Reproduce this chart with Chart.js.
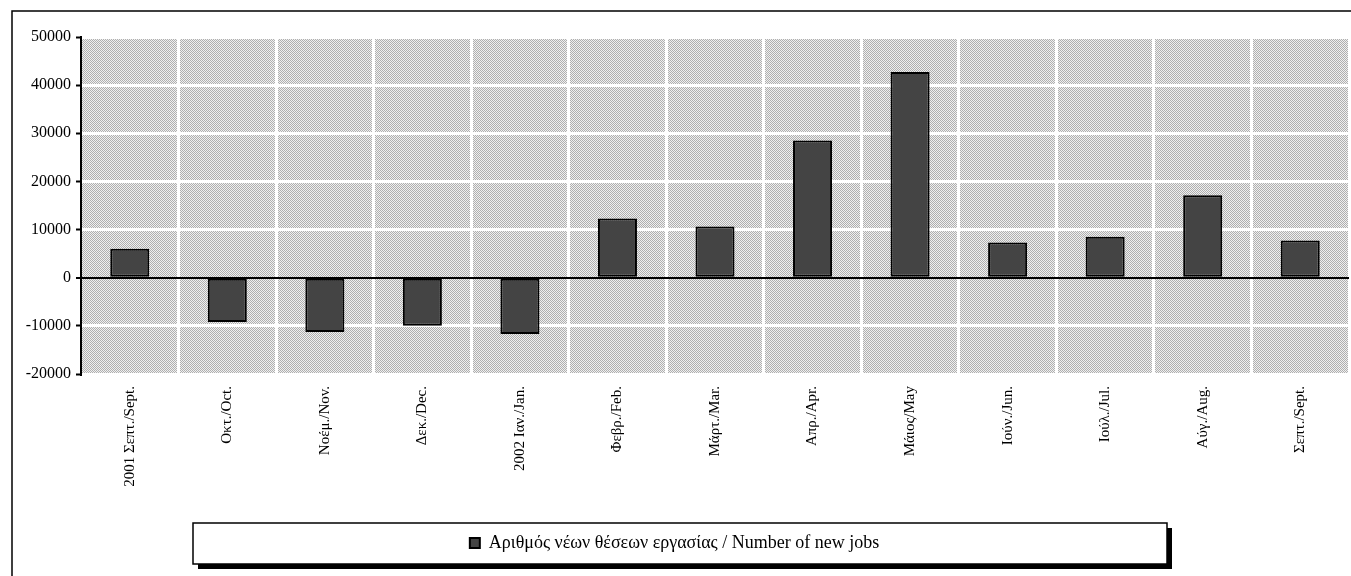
<!DOCTYPE html>
<html>
<head>
<meta charset="utf-8">
<script src="https://cdn.jsdelivr.net/npm/chart.js@4.4.0/dist/chart.umd.min.js"></script>
<style>
  html, body { margin: 0; padding: 0; background: #fff; }
  #box { width: 1351px; height: 576px; }
</style>
</head>
<body>
<div id="box"><canvas id="grafico"></canvas></div>
<script>
// dados do gráfico
const meses = ["2001 Σεπτ./Sept.", "Οκτ./Oct.", "Νοέμ./Nov.", "Δεκ./Dec.", "2002 Ιαν./Jan.",
  "Φεβρ./Feb.", "Μάρτ./Mar.", "Απρ./Apr.", "Μάιος/May", "Ιούν./Jun.", "Ιούλ./Jul.", "Αύγ./Aug.", "Σεπτ./Sept."];
const novasVagas = [6000, -9200, -11300, -10000, -11700, 12300, 10650, 28500, 42750, 7300, 8500, 17150, 7750];
const nomeSerie = "Αριθμός νέων θέσεων εργασίας / Number of new jobs";
const eixoYMin = -20000;
const eixoYMax = 50000;
const eixoYPasso = 10000;

const fonte = "'Liberation Serif', 'Times New Roman', serif";

// fundo pontilhado da área do gráfico, moldura externa e caixa da legenda
const fundoPlugin = {
  id: "fundo",
  beforeDraw(chart) {
    const ctx = chart.ctx;
    const a = chart.chartArea;

    // padrão cinza pontilhado
    const pc = document.createElement("canvas");
    pc.width = 2; pc.height = 2;
    const p = pc.getContext("2d");
    p.fillStyle = "#f0f0f0"; p.fillRect(0, 0, 2, 2);
    p.fillStyle = "#afafaf"; p.fillRect(0, 0, 1, 1); p.fillRect(1, 1, 1, 1);
    ctx.save();
    ctx.fillStyle = ctx.createPattern(pc, "repeat");
    ctx.fillRect(a.left, a.top, a.right - a.left, a.bottom - a.top);

    // moldura externa
    ctx.strokeStyle = "#000";
    ctx.lineWidth = 1.5;
    ctx.beginPath();
    ctx.moveTo(12, chart.height);
    ctx.lineTo(12, 11);
    ctx.lineTo(chart.width, 11);
    ctx.stroke();

    // caixa da legenda com sombra
    const lg = chart.legend;
    const cy = (lg.top + lg.bottom) / 2;
    const x0 = 193, x1 = 1167, h = 41;
    const y0 = Math.round(cy - h / 2);
    ctx.fillStyle = "#000";
    ctx.fillRect(x0 + 5, y0 + 5, x1 - x0, h);
    ctx.fillStyle = "#fff";
    ctx.fillRect(x0, y0, x1 - x0, h);
    ctx.lineWidth = 1.5;
    ctx.strokeRect(x0, y0, x1 - x0, h);
    ctx.restore();
  }
};

const ctx = document.getElementById("grafico").getContext("2d");
const grafico = new Chart(ctx, {
  type: "bar",
  data: {
    labels: meses,
    datasets: [{
      label: nomeSerie,
      data: novasVagas,
      backgroundColor: "#444444",
      borderColor: "#000",
      borderWidth: 2,
      borderSkipped: false,
      barPercentage: 0.4,
      categoryPercentage: 1
    }]
  },
  options: {
    responsive: true,
    maintainAspectRatio: false,
    animation: false,
    layout: { padding: { left: 0, right: 2, top: 37, bottom: 14 } },
    plugins: {
      tooltip: { enabled: false },
      legend: {
        position: "bottom",
        labels: {
          color: "#000",
          font: { family: fonte, size: 18 },
          boxWidth: 10,
          boxHeight: 10,
          padding: 9
        }
      }
    },
    scales: {
      x: {
        afterFit(scale) { scale.height = 151; },
        grid: {
          offset: true,
          color: c => c.index === 0 ? "rgba(0,0,0,0)" : "#fff",
          lineWidth: 3,
          drawTicks: false
        },
        border: { display: false },
        ticks: {
          color: "#000",
          font: { family: fonte, size: 15 },
          minRotation: 90,
          maxRotation: 90,
          autoSkip: false,
          padding: 12
        }
      },
      y: {
        min: eixoYMin,
        max: eixoYMax,
        afterFit(scale) { scale.width = 81; },
        grid: {
          color: c => c.tick && c.tick.value === 0 ? "#000" : "#fff",
          lineWidth: c => c.tick && c.tick.value === 0 ? 2 : 3,
          tickColor: "#000",
          tickWidth: 2,
          tickLength: 5
        },
        border: { display: true, color: "#000", width: 2 },
        ticks: {
          stepSize: eixoYPasso,
          color: "#000",
          font: { family: fonte, size: 16 },
          padding: 5,
          callback: v => String(v)
        }
      }
    }
  },
  plugins: [fundoPlugin]
});
</script>
</body>
</html>
